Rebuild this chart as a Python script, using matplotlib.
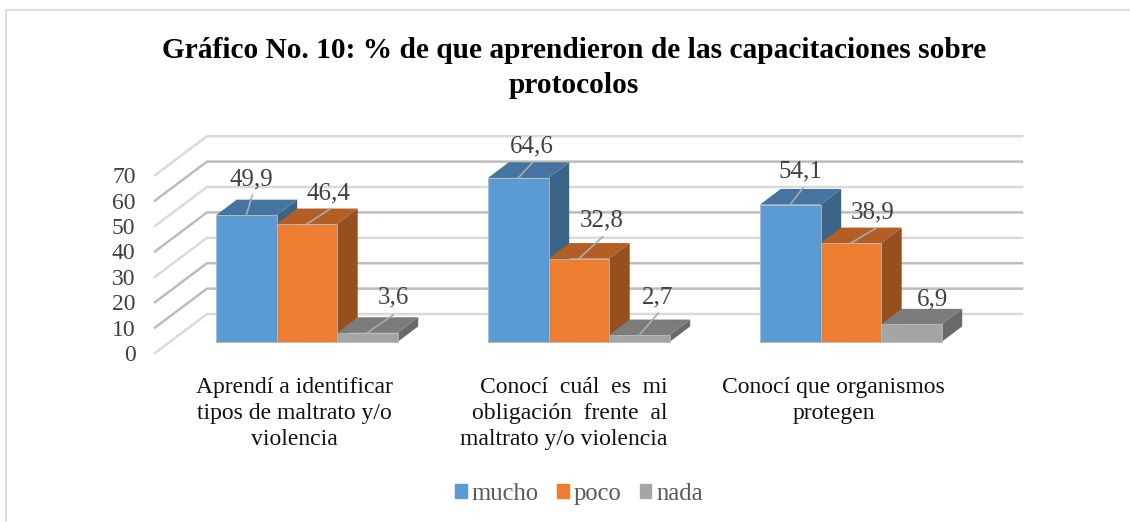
import matplotlib
matplotlib.use("Agg")
import matplotlib.pyplot as plt
from matplotlib.patches import Polygon, Patch, Rectangle
from matplotlib.transforms import ScaledTranslation

categories = ["Aprendí a identificar\ntipos de maltrato y/o\nviolencia",
              "Conocí  cuál  es  mi\nobligación  frente  al\nmaltrato y/o violencia",
              "Conocí que organismos\nprotegen"]
series_names = ["mucho", "poco", "nada"]
mucho = [49.9, 64.6, 54.1]
poco = [46.4, 32.8, 38.9]
nada = [3.6, 2.7, 6.9]
y_ticks = [0, 10, 20, 30, 40, 50, 60, 70]

W, H = 1130, 522
PX_X = 272.0   # pixels per category
PX_Y = 2.54    # pixels per percent
BAR_W = 60.5 / PX_X
SERIF = "Liberation Serif"

front_colors = ["#5B9BD5", "#ED7D31", "#A5A5A5"]
top_colors = ["#44749F", "#B25E25", "#7C7C7C"]
side_colors = ["#3A6586", "#964F1F", "#696969"]
grid_light = "#DADADA"
grid_dark = "#BCBCBC"
grid_colors = [grid_light, grid_dark, grid_dark, grid_light, grid_dark, grid_light, grid_dark, grid_light]

# label offset from the top-front centre of each bar, and leader line end, in pixels
label_offsets = [[(5, 36), (22, 31), (26, 35)], [(14, 31), (23, 38), (18, 38)], [(10, 33), (22, 31), (21, 25)]]
leader_ends = [[(6, 20), (23, 15), (26, 18)], [(14, 15), (24, 22), (19, 22)], [(13, 17), (25, 15), None]]


def draw_bar(ax, left, value, idx):
    # floor of the bars sits 11 px above the front edge of the floor
    base = 11 / PX_Y
    right = left + BAR_W
    top = base + value
    dx = 20.7 / PX_X
    dy = 15.6 / PX_Y
    ax.add_patch(Polygon([(right, base), (right + dx, base + dy), (right + dx, top + dy), (right, top)],
                         fc=side_colors[idx], ec="none", clip_on=False, zorder=3 + idx))
    ax.add_patch(Polygon([(left, top), (left + dx, top + dy), (right + dx, top + dy), (right, top)],
                         fc=top_colors[idx], ec="none", clip_on=False, zorder=3 + idx))
    ax.add_patch(Rectangle((left, base), BAR_W, value, fc=front_colors[idx], ec="#B8B8B8", lw=0.6,
                           clip_on=False, zorder=3 + idx))
    return left + BAR_W / 2, top


plt.rcParams["font.family"] = [SERIF, "DejaVu Serif"]
fig = plt.figure(figsize=(W / 100, H / 100), dpi=100)

# axes box: left edge is the front of the side wall, bottom edge the front of the floor
ax_left, ax_right, ax_bottom, ax_top = 155, 1030, 353, 120
ax = fig.add_axes([ax_left / W, 1 - ax_bottom / H, (ax_right - ax_left) / W, (ax_bottom - ax_top) / H])
ax.set_xlim((ax_left - 306.75) / PX_X, (ax_right - 306.75) / PX_X)
ax.set_ylim(0, (ax_bottom - ax_top) / PX_Y)
for s in ax.spines.values():
    s.set_visible(False)

wall_x = (207 - 155) / PX_X
wall_y = 39 / PX_Y
x0 = ax.get_xlim()[0]
x1 = x0 + (1022 - 155) / PX_X
for v, c in zip(y_ticks, grid_colors):
    ax.plot([x0, x0 + wall_x, x1], [v, v + wall_y, v + wall_y], color=c, lw=1.8, zorder=1,
            solid_joinstyle="miter", clip_on=False)

all_series = [mucho, poco, nada]
for i in range(len(categories)):
    for j, vals in enumerate(all_series):
        left = i - 1.5 * BAR_W + j * BAR_W
        cx, top = draw_bar(ax, left, vals[i], j)
        lx, ly = label_offsets[i][j]
        ax.text(cx + lx / PX_X, top + ly / PX_Y, f"{vals[i]:.1f}".replace(".", ","), ha="center", va="center",
                fontsize=18, color="#404040", zorder=10)
        if leader_ends[i][j] is not None:
            ex, ey = leader_ends[i][j]
            ax.plot([cx, cx + ex / PX_X], [top, top + ey / PX_Y], color="#ABABAB", lw=1.2, zorder=9,
                    clip_on=False)

ax.set_yticks(y_ticks)
ax.tick_params(axis="y", length=0, pad=14, labelsize=17, labelcolor="#404040")
ax.set_xticks(range(len(categories)))
ax.set_xticklabels(categories, fontsize=17, color="#111111", linespacing=1.32, multialignment="center")
ax.tick_params(axis="x", length=0, pad=17)
shifts = [-12, -15, -17]
aligns = ["center", "right", "center"]
for lab, sh, al in zip(ax.get_xticklabels(), shifts, aligns):
    lab.set_transform(lab.get_transform() + ScaledTranslation(sh / 100, 0, fig.dpi_scale_trans))
    lab.set_multialignment(al)

fig.text(574 / W, 1 - 68 / H, "Gráfico No. 10: % de que aprendieron de las capacitaciones sobre\nprotocolos",
         ha="center", va="center", fontsize=21.2, fontweight="bold", color="black", linespacing=1.41)

handles = [Patch(color=c, label=n) for c, n in zip(front_colors, series_names)]
fig.legend(handles=handles, loc="center", bbox_to_anchor=(579 / W, 1 - 494 / H), ncols=3, frameon=False,
           fontsize=17.7, labelcolor="#595959", handlelength=0.47, handleheight=0.47, handletextpad=0.2,
           columnspacing=0.75, borderpad=0)

# chart frame, only the left and top edges fall inside the crop
fx0, fy = 6, 10
fig.add_artist(plt.Line2D([fx0 / W, fx0 / W, 1], [0, 1 - fy / H, 1 - fy / H],
                          color="#DADADA", lw=1.3, transform=fig.transFigure))

fig.savefig("out.png", dpi=100)
